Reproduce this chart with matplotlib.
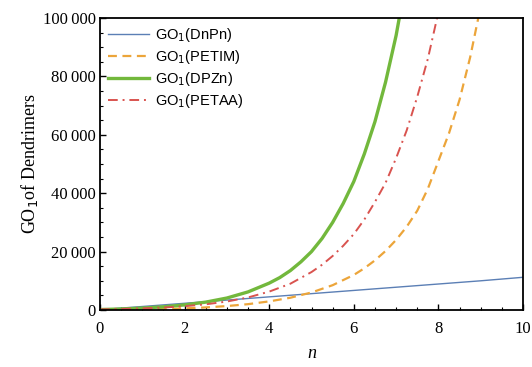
import numpy as np
import matplotlib.pyplot as plt
from matplotlib.ticker import MultipleLocator, FuncFormatter

# values
n_dnpn = [0, 1, 2, 3, 4, 5, 6, 7, 8, 9, 10]
dnpn = [100, 1200, 2300, 3400, 4500, 5600, 6700, 7800, 8900, 10000, 11200]

n_petim = [0, 0.5, 1, 1.5, 2, 2.5, 3, 3.5, 4, 4.5, 5, 5.5, 6, 6.25, 6.5, 6.75,
           7, 7.25, 7.5, 7.75, 8, 8.25, 8.5, 8.75, 9, 9.25]
petim = [50, 100, 200, 330, 550, 880, 1350, 2000, 2950, 4200, 6000, 8500,
         12000, 14300, 17000, 20200, 24000, 28500, 34000, 41500, 51000, 60500,
         72000, 86500, 104000, 124000]

n_dpzn = [0, 0.5, 1, 1.5, 2, 2.5, 3, 3.5, 4, 4.25, 4.5, 4.75, 5, 5.25, 5.5,
          5.75, 6, 6.25, 6.5, 6.75, 7, 7.25, 7.5]
dpzn = [150, 350, 650, 1100, 1750, 2700, 4100, 6200, 9200, 11100, 13500,
        16500, 20000, 24500, 30000, 36500, 44000, 53500, 64500, 78000, 94000,
        114000, 138000]

n_petaa = [0, 0.5, 1, 1.5, 2, 2.5, 3, 3.5, 4, 4.5, 5, 5.25, 5.5, 5.75, 6,
           6.25, 6.5, 6.75, 7, 7.25, 7.5, 7.75, 8, 8.25]
petaa = [200, 350, 550, 850, 1300, 1950, 2900, 4300, 6300, 9000, 13000,
         15500, 18500, 22000, 26000, 31000, 37000, 43500, 52000, 61500, 73000,
         86000, 102000, 121000]

labels = ['GO$_1$(DnPn)', 'GO$_1$(PETIM)', 'GO$_1$(DPZn)', 'GO$_1$(PETAA)']

fig = plt.figure(figsize=(5.32, 3.67), dpi=100)
ax = fig.add_axes([100 / 532, 57 / 367, 423 / 532, 292 / 367])

ax.plot(n_dnpn, dnpn, color='#5b7fb5', lw=1.0, label=labels[0])
ax.plot(n_petim, petim, color='#eca53a', lw=1.6, ls=(0, (4, 2.5)), label=labels[1])
ax.plot(n_dpzn, dpzn, color='#72b83c', lw=2.4, label=labels[2])
ax.plot(n_petaa, petaa, color='#d9534f', lw=1.4, ls=(0, (5, 2.5, 1, 2.5)), label=labels[3])

ax.set_xlim(0, 10)
ax.set_ylim(0, 100000)
ax.xaxis.set_major_locator(MultipleLocator(2))
ax.xaxis.set_minor_locator(MultipleLocator(0.5))
ax.yaxis.set_major_locator(MultipleLocator(20000))
ax.yaxis.set_minor_locator(MultipleLocator(5000))
ax.yaxis.set_major_formatter(FuncFormatter(
    lambda v, p: f"{int(v):,}".replace(',', '\u2009')))
ax.tick_params(which='both', direction='in', top=False, right=False)
ax.tick_params(which='major', length=4, width=1)
ax.tick_params(which='minor', length=2, width=0.8)
ax.tick_params(axis='x', pad=8)
ax.tick_params(axis='y', pad=3)
for lab in ax.get_xticklabels() + ax.get_yticklabels():
    lab.set_family('Liberation Serif')
    lab.set_fontsize(12)
for s in ax.spines.values():
    s.set_linewidth(1.3)

ax.set_ylabel('GO$_1$of Dendrimers', family='Liberation Serif', fontsize=13, labelpad=2)
ax.set_xlabel('n', family='Liberation Serif', style='italic', fontsize=13, labelpad=6)

leg = ax.legend(loc='upper left', frameon=False, handlelength=2.8,
                handletextpad=0.4, labelspacing=0.28, borderaxespad=0.15,
                prop={'family': 'Liberation Sans', 'size': 10.5})

fig.savefig('out.png', dpi=100)
